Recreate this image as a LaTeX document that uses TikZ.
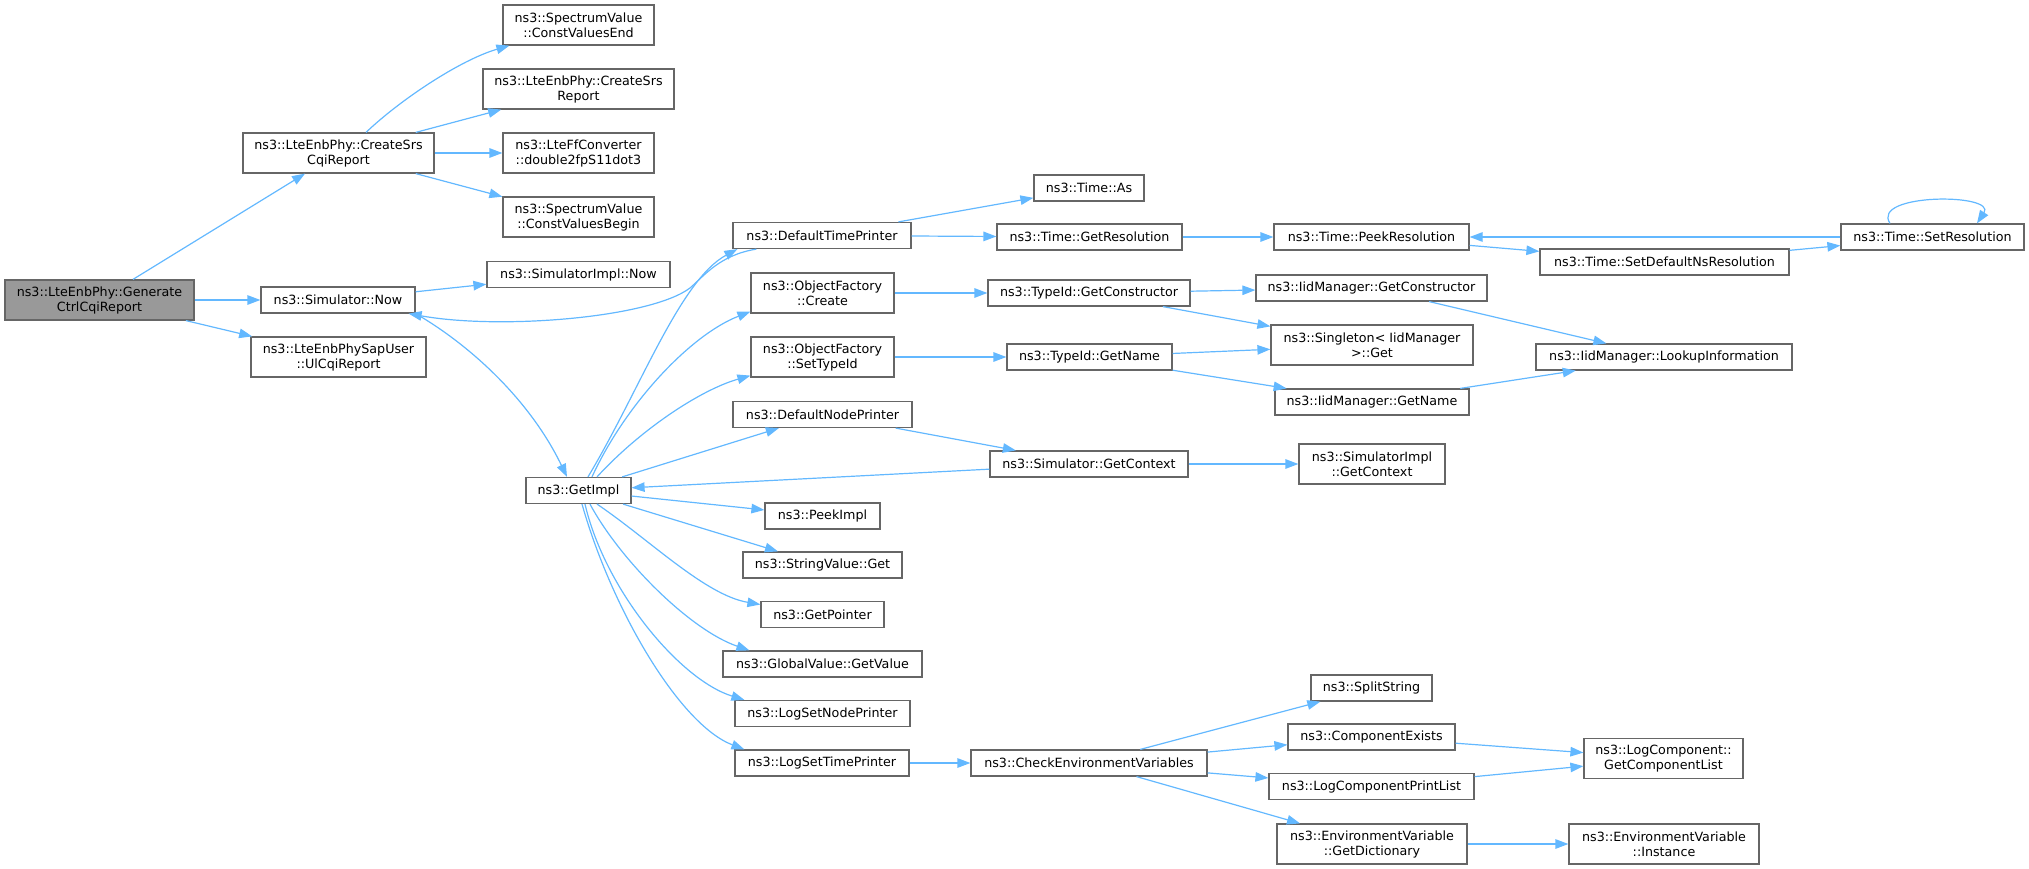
\documentclass[tikz,border=0pt]{standalone}
\usepackage{fontspec}
\setmainfont{DejaVu Sans}
\usetikzlibrary{arrows.meta}
\definecolor{edgeblue}{HTML}{63B8FF}
\definecolor{boxgray}{HTML}{666666}
\definecolor{rootfill}{HTML}{999999}
\tikzset{
 box/.style={draw=boxgray, fill=white, line width=1.2pt, inner sep=0pt, align=center, font=\fontsize{12.7}{15}\selectfont},
 one/.style={minimum height=26pt},
 two/.style={minimum height=40pt},
 call/.style={draw=edgeblue, line width=1.2pt, -{Triangle[length=13pt,width=9.5pt]}},
}
\begin{document}
\begin{tikzpicture}[x=1pt,y=-1pt]
\path[use as bounding box] (0,0) rectangle (2029,869);
% nodes
\node[box,two,minimum width=189pt,fill=rootfill] (gen) at (99.5,300) {ns3::LteEnbPhy::Generate\\CtrlCqiReport};
\node[box,two,minimum width=191pt] (csrscqi) at (338.5,153) {ns3::LteEnbPhy::CreateSrs\\CqiReport};
\node[box,two,minimum width=151pt] (cve) at (578.5,25) {ns3::SpectrumValue\\::ConstValuesEnd};
\node[box,two,minimum width=191pt] (csrsr) at (578.5,89) {ns3::LteEnbPhy::CreateSrs\\Report};
\node[box,two,minimum width=151pt] (d2fp) at (578.5,153) {ns3::LteFfConverter\\::double2fpS11dot3};
\node[box,two,minimum width=151pt] (cvb) at (578.5,217) {ns3::SpectrumValue\\::ConstValuesBegin};
\node[box,one,minimum width=154pt] (simnow) at (338,300) {ns3::Simulator::Now};
\node[box,one,minimum width=183pt] (simimplnow) at (578.5,274.5) {ns3::SimulatorImpl::Now};
\node[box,two,minimum width=175pt] (ulcqi) at (338.5,357) {ns3::LteEnbPhySapUser\\::UlCqiReport};
\node[box,one,minimum width=105pt] (getimpl) at (578.5,490.5) {ns3::GetImpl};
\node[box,one,minimum width=178pt] (dtp) at (822,235.5) {ns3::DefaultTimePrinter};
\node[box,two,minimum width=143pt] (ofcreate) at (822.5,293) {ns3::ObjectFactory\\::Create};
\node[box,two,minimum width=143pt] (ofsettype) at (822.5,357) {ns3::ObjectFactory\\::SetTypeId};
\node[box,one,minimum width=179pt] (dnp) at (822.5,414.5) {ns3::DefaultNodePrinter};
\node[box,one,minimum width=115pt] (peekimpl) at (822.5,516) {ns3::PeekImpl};
\node[box,one,minimum width=159pt] (strget) at (822.5,565) {ns3::StringValue::Get};
\node[box,one,minimum width=123pt] (getptr) at (822.5,614.5) {ns3::GetPointer};
\node[box,one,minimum width=199pt] (gvget) at (822.5,664) {ns3::GlobalValue::GetValue};
\node[box,one,minimum width=175pt] (lsnp) at (822.5,713.5) {ns3::LogSetNodePrinter};
\node[box,one,minimum width=174pt] (lstp) at (822,763) {ns3::LogSetTimePrinter};
\node[box,one,minimum width=110pt] (timeas) at (1089,188) {ns3::Time::As};
\node[box,one,minimum width=185pt] (getres) at (1089.5,237) {ns3::Time::GetResolution};
\node[box,one,minimum width=202pt] (tgetctor) at (1089,293) {ns3::TypeId::GetConstructor};
\node[box,one,minimum width=165pt] (tgetname) at (1089.5,357) {ns3::TypeId::GetName};
\node[box,one,minimum width=198pt] (simgetctx) at (1089,464) {ns3::Simulator::GetContext};
\node[box,one,minimum width=195pt] (peekres) at (1371.5,237) {ns3::Time::PeekResolution};
\node[box,one,minimum width=231pt] (iidgetctor) at (1371.5,288) {ns3::IidManager::GetConstructor};
\node[box,two,minimum width=202pt] (singleton) at (1372,345) {ns3::Singleton< IidManager\\ >::Get};
\node[box,one,minimum width=194pt] (iidgetname) at (1372,402) {ns3::IidManager::GetName};
\node[box,two,minimum width=146pt] (simimplctx) at (1372,464) {ns3::SimulatorImpl\\::GetContext};
\node[box,one,minimum width=249pt] (setdefns) at (1664.5,262) {ns3::Time::SetDefaultNsResolution};
\node[box,one,minimum width=183pt] (setres) at (1932.5,237) {ns3::Time::SetResolution};
\node[box,one,minimum width=256pt] (lookup) at (1664,357) {ns3::IidManager::LookupInformation};
\node[box,one,minimum width=236pt] (checkenv) at (1089,763) {ns3::CheckEnvironmentVariables};
\node[box,one,minimum width=121pt] (splitstr) at (1371.5,688) {ns3::SplitString};
\node[box,one,minimum width=167pt] (compexists) at (1371.5,737) {ns3::ComponentExists};
\node[box,one,minimum width=205pt] (lcpl) at (1371.5,786.5) {ns3::LogComponentPrintList};
\node[box,two,minimum width=190pt] (getdict) at (1372,844) {ns3::EnvironmentVariable\\::GetDictionary};
\node[box,two,minimum width=159pt] (getcomplist) at (1663.5,758.5) {ns3::LogComponent::\\GetComponentList};
\node[box,two,minimum width=190pt] (envinst) at (1664,844) {ns3::EnvironmentVariable\\::Instance};
% straight edges
\draw[call] (gen) -- (csrscqi);
\draw[call] (gen) -- (simnow);
\draw[call] (gen) -- (ulcqi);
\draw[call] (csrscqi) -- (csrsr);
\draw[call] (csrscqi) -- (d2fp);
\draw[call] (csrscqi) -- (cvb);
\draw[call] (simnow) -- (simimplnow);
\draw[call] (getimpl) -- (dnp);
\draw[call] (simgetctx) -- (getimpl);
\draw[call] (getimpl) -- (peekimpl);
\draw[call] (getimpl) -- (strget);
\draw[call] (dtp) -- (timeas);
\draw[call] (dtp) -- (getres);
\draw[call] (getres) -- (peekres);
\draw[call] (peekres) -- (setdefns);
\draw[call] (setdefns) -- (setres);
\draw[call] (setres) -- (peekres);
\draw[call] (ofcreate) -- (tgetctor);
\draw[call] (tgetctor) -- (iidgetctor);
\draw[call] (tgetctor) -- (singleton);
\draw[call] (iidgetctor) -- (lookup);
\draw[call] (ofsettype) -- (tgetname);
\draw[call] (tgetname) -- (singleton);
\draw[call] (tgetname) -- (iidgetname);
\draw[call] (iidgetname) -- (lookup);
\draw[call] (dnp) -- (simgetctx);
\draw[call] (simgetctx) -- (simimplctx);
\draw[call] (lstp) -- (checkenv);
\draw[call] (checkenv) -- (splitstr);
\draw[call] (checkenv) -- (compexists);
\draw[call] (checkenv) -- (lcpl);
\draw[call] (checkenv) -- (getdict);
\draw[call] (compexists) -- (getcomplist);
\draw[call] (lcpl) -- (getcomplist);
\draw[call] (getdict) -- (envinst);
% curved edges
\draw[call] ([xshift=27.5pt]csrscqi.north) .. controls (400,100) and (460,60) .. ([xshift=7pt]cve.south west);
\draw[call] (simnow.south east) .. controls (470,345) and (530,400) .. ([xshift=-11.5pt]getimpl.north);
\draw[call] ([xshift=24pt]dtp.south west) .. controls (720,255) and (705,275) .. (690,288) .. controls (650,318) and (500,330) .. ([xshift=-7pt]simnow.south east);
\draw[call] ([xshift=9.5pt]getimpl.north) .. controls (640,390) and (680,280) .. ([xshift=5pt]dtp.south west);
\draw[call] ([xshift=13.5pt]getimpl.north) .. controls (625,405) and (690,335) .. ([yshift=2pt]ofcreate.south west);
\draw[call] ([xshift=18.5pt]getimpl.north) .. controls (640,430) and (700,390) .. ([yshift=2pt]ofsettype.south west);
\draw[call] ([xshift=18.5pt]getimpl.south) .. controls (650,540) and (705,595) .. ([yshift=10pt]getptr.west);
\draw[call] ([xshift=11.5pt]getimpl.south) .. controls (620,560) and (690,630) .. ([xshift=27pt]gvget.north west);
\draw[call] ([xshift=6.5pt]getimpl.south) .. controls (605,590) and (680,680) .. ([xshift=10pt]lsnp.north west);
\draw[call] ([xshift=3.5pt]getimpl.south) .. controls (612,610) and (680,725) .. ([xshift=10pt]lstp.north west);
\draw[call] ([xshift=-42.5pt]setres.north) .. controls (1870,193) and (1997,193) .. ([xshift=44.5pt]setres.north);
\end{tikzpicture}
\end{document}
